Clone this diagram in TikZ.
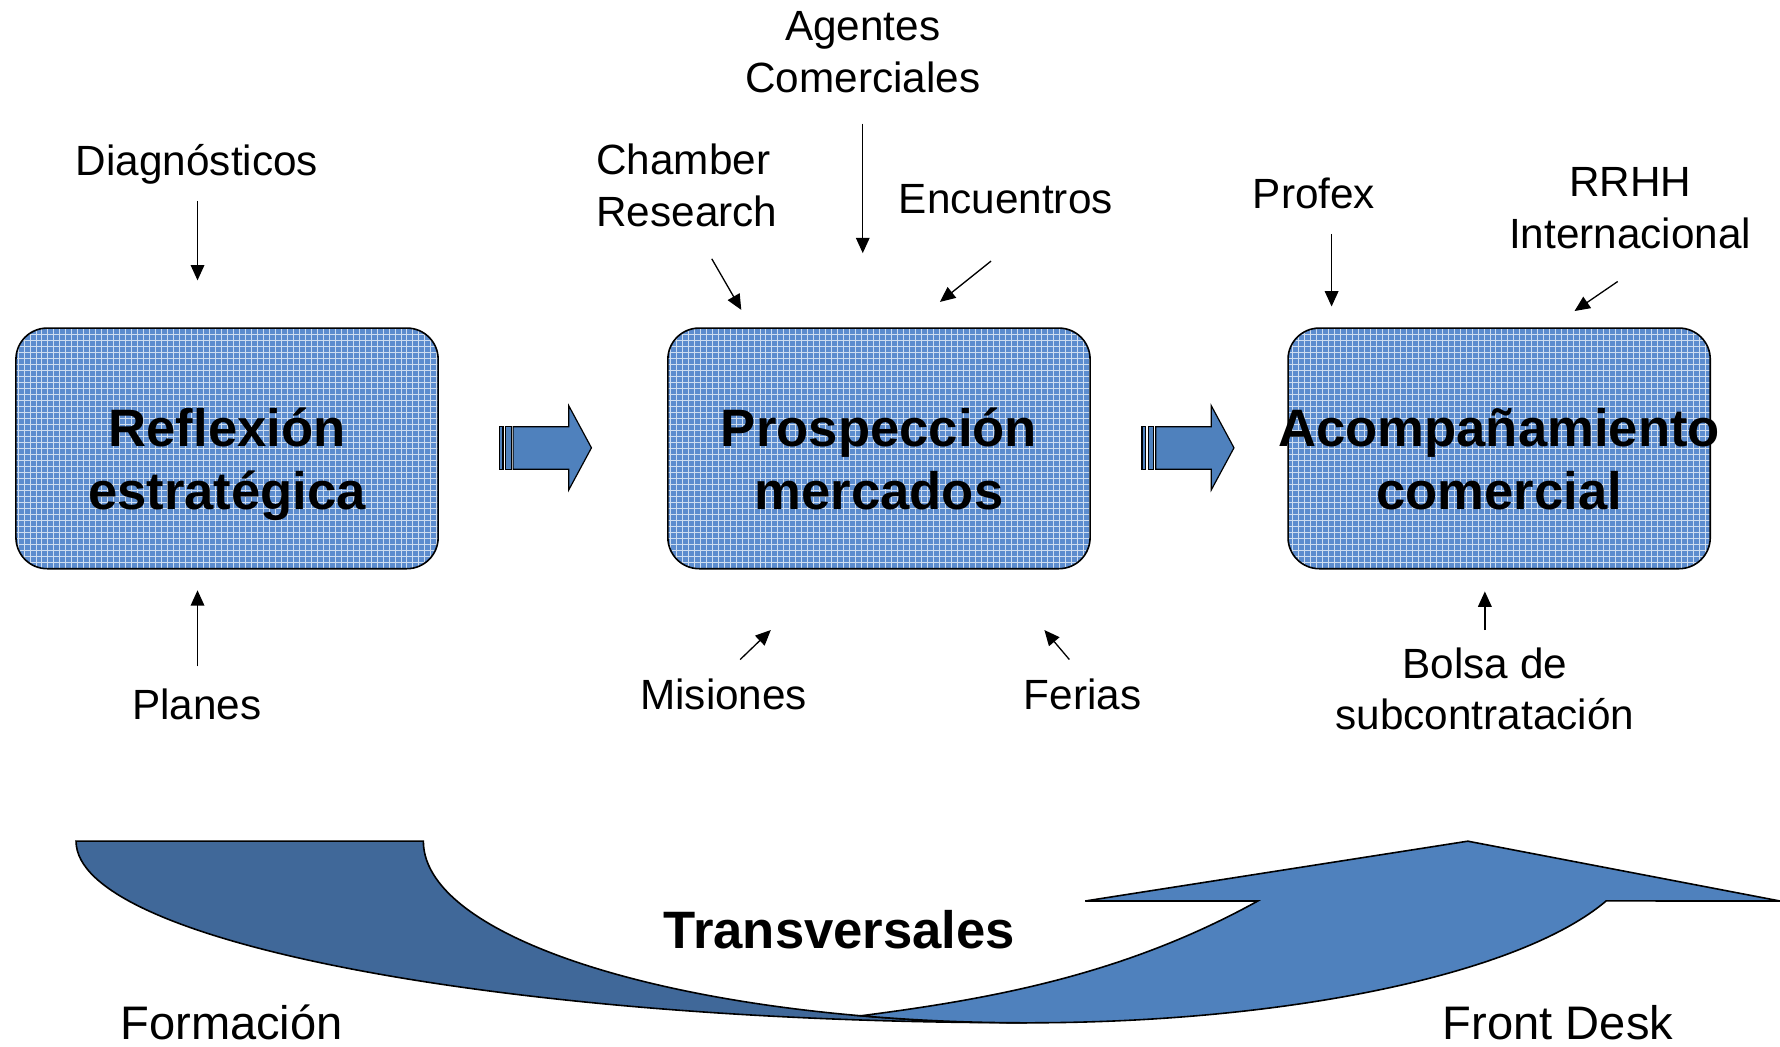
\documentclass[tikz,border=0pt]{standalone}
\usepackage{fontspec}
\setmainfont{Liberation Sans}
\usetikzlibrary{arrows.meta, positioning, patterns}

\definecolor{cajaazul}{RGB}{92,140,206}
\definecolor{claro}{RGB}{79,129,189}
\definecolor{oscuro}{RGB}{64,104,153}

\begin{document}
\begin{tikzpicture}[
        x=0.02cm, y=0.02cm,
        etapa/.style={rectangle, rounded corners=0.55cm, draw, line width=0.8pt,
            preaction={fill=cajaazul}, pattern=grid, pattern color=white!70!cajaazul,
            minimum width=7.44cm, minimum height=4.24cm, align=center,
            font=\fontsize{26.4}{31.6}\selectfont\bfseries},
        fuente/.style={inner sep=0pt, font=\fontsize{21.2}{25.8}\selectfont},
        fuentegrande/.style={inner sep=0pt, font=\fontsize{23.6}{28}\selectfont},
        flechita/.style={-{Triangle[length=0.27cm, width=0.24cm]}, line width=0.65pt},
        bloque/.style={draw, line width=0.6pt, fill=claro}
    ]
    \useasboundingbox (0,0) rectangle (1568,922);

    % Stages
    \node [etapa] (reflexion) at (200,527) {\rule{0pt}{35.5pt}Reflexión\\estratégica};
    \node [etapa] (prospeccion) [right=4.02cm of reflexion] {\rule{0pt}{29.9pt}Prospección\\mercados};
    \node [etapa] (acompanamiento) [right=3.46cm of prospeccion] {\rule{0pt}{29.9pt}\makebox[0pt]{Acompañamiento}\\comercial};

    % Block arrows between stages
    \foreach \x in {440,1006} {
        \draw[bloque] (\x,508.6) rectangle ++(3,37.5);
        \draw[bloque] (\x+5.4,508.6) rectangle ++(5,37.5);
        \draw[bloque] (\x+12,508.6) -- (\x+61,508.6) -- (\x+61,490.4) -- (\x+81,527.5)
            -- (\x+61,564.6) -- (\x+61,546.1) -- (\x+12,546.1) -- cycle;
    }

    % Inputs
    \node [fuente, anchor=base] (diagnosticos) at (173.5,767.6) {Diagnósticos};
    \node [fuente, align=center] (agentes) at (760,876) {Agentes\\Comerciales};
    \node [fuente, anchor=west, align=left] (chamber) at (525,758.5) {Chamber\\Research};
    \node [fuente, anchor=base] (encuentros) at (886,734) {Encuentros};
    \node [fuente, anchor=base] (profex) at (1157.5,738) {Profex};
    \node [fuente, align=center] (rrhh) at (1436,738.7) {RRHH\\Internacional};
    \node [fuente, anchor=base] (planes) at (173.5,288.6) {Planes};
    \node [fuente, anchor=base] (misiones) at (637.5,296.6) {Misiones};
    \node [fuente, anchor=base] (ferias) at (953.5,296.6) {Ferias};
    \node [fuente, align=center] (bolsa) at (1308,315) {Bolsa de\\subcontratación};

    % Arrow ends
    \coordinate (diag1) at (174,745);   \coordinate (diag2) at (174,675);
    \coordinate (plan1) at (174,335);   \coordinate (plan2) at (174,402);
    \coordinate (agen1) at (760,813);   \coordinate (agen2) at (760,699);
    \coordinate (cham1) at (627,694);   \coordinate (cham2) at (653,649);
    \coordinate (encu1) at (873,692);   \coordinate (encu2) at (828,656);
    \coordinate (misi1) at (652,341);   \coordinate (misi2) at (679,367);
    \coordinate (feri1) at (942,341);   \coordinate (feri2) at (920,367);
    \coordinate (prof1) at (1173,716);  \coordinate (prof2) at (1173,652);
    \coordinate (rrhh1) at (1425,674);  \coordinate (rrhh2) at (1387,648);
    \coordinate (bols1) at (1308,367);  \coordinate (bols2) at (1308,401);

    % Input arrows
    \draw[flechita] (diag1) -- (diag2);
    \draw[flechita] (plan1) -- (plan2);
    \draw[flechita] (agen1) -- (agen2);
    \draw[flechita] (cham1) -- (cham2);
    \draw[flechita] (encu1) -- (encu2);
    \draw[flechita] (misi1) -- (misi2);
    \draw[flechita] (feri1) -- (feri2);
    \draw[flechita] (prof1) -- (prof2);
    \draw[flechita] (rrhh1) -- (rrhh2);
    \draw[flechita] (bols1) -- (bols2);

    % Transversal curved arrow
    \draw[line width=0.8pt, fill=oscuro] (67,181)
        arc[start angle=180, end angle=270, x radius=16.76cm, y radius=3.2cm]
        arc[start angle=270, end angle=180, x radius=10.64cm, y radius=3.2cm] -- cycle;
    \draw[line width=0.8pt, fill=claro] (758.4,27.2)
        arc[start angle=254, end angle=270, x radius=10.64cm, y radius=3.2cm]
        arc[start angle=270, end angle=340.8, x radius=10.8cm, y radius=3.2cm]
        -- (1568,128.3) -- (1293,181) -- (956,128.3) -- (1108,128.3)
        .. controls (990,63) and (873,42) .. (758.4,27.2) -- cycle;

    \node [inner sep=0pt, anchor=base, font=\fontsize{26.4}{31.6}\selectfont\bfseries] (transversales) at (739.5,86.6) {Transversales};
    \node [fuentegrande, anchor=base] (formacion) at (204,6) {Formación};
    \node [fuentegrande, anchor=base] (frontdesk) at (1372.5,6) {Front Desk};

\end{tikzpicture}
\end{document}
